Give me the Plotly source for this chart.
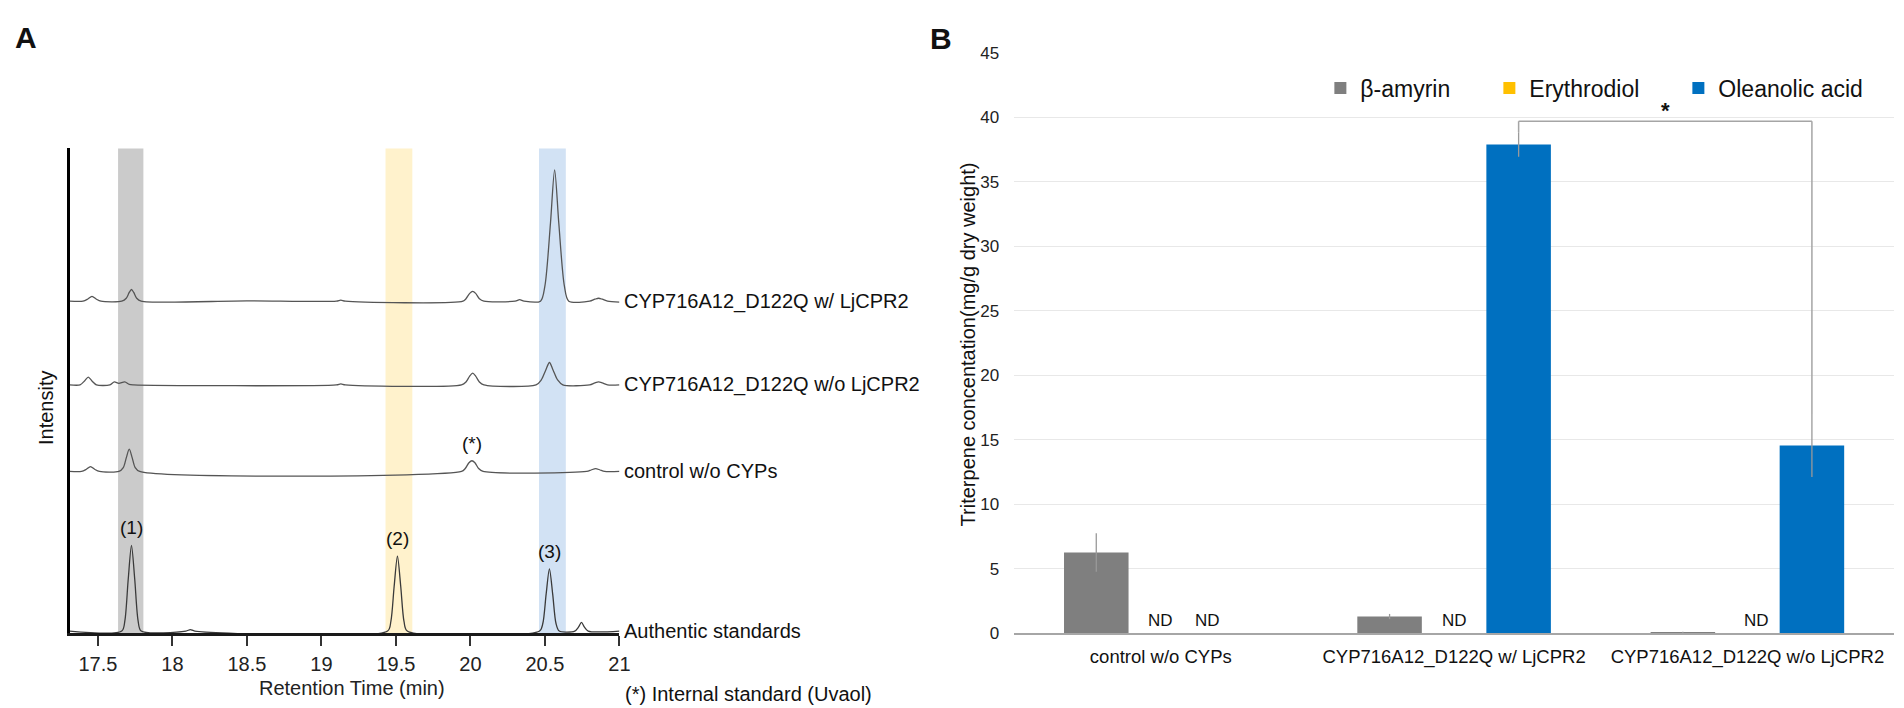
import plotly.graph_objects as go

W, H = 1904, 708
FONT = "Liberation Sans, Arial, Helvetica, sans-serif"

# ---------------- panel A: chromatograms (rt in min, intensity in a.u.) ----------------
trace_names = ["CYP716A12_D122Q w/ LjCPR2", "CYP716A12_D122Q w/o LjCPR2",
               "control w/o CYPs", "Authentic standards"]

with_cpr = [(17.31, 0), (17.40, 0), (17.43, 2), (17.46, 5), (17.49, 2), (17.52, 0),
            (17.66, 0), (17.69, 3), (17.71, 9), (17.725, 12), (17.74, 9), (17.76, 3), (17.79, 0),
            (18.5, 0.3), (19.10, 0), (19.13, 1), (19.16, 0), (19.95, 0), (19.97, 2.5),
            (19.995, 8), (20.015, 10), (20.035, 8), (20.06, 2.5), (20.09, 0), (20.30, 0),
            (20.33, 1.5), (20.36, 0), (20.47, 0), (20.50, 16), (20.537, 80), (20.565, 135),
            (20.593, 80), (20.63, 16), (20.66, 0), (20.80, 0), (20.835, 2), (20.86, 3),
            (20.885, 2), (20.92, 0), (21.0, -1)]

without_cpr = [(17.31, 0), (17.38, 0), (17.41, 4), (17.435, 8), (17.46, 4), (17.49, 0),
               (17.58, 0), (17.61, 3), (17.64, 1.5), (17.68, 3), (17.71, 0.5), (17.74, 0),
               (19.10, 0), (19.13, 1), (19.16, 0), (19.94, 0), (19.97, 3), (19.995, 9),
               (20.015, 12), (20.035, 9), (20.06, 3), (20.09, 0), (20.44, 0), (20.475, 5),
               (20.505, 15), (20.53, 23), (20.555, 15), (20.585, 5), (20.62, 0), (20.80, 0),
               (20.835, 2), (20.86, 3), (20.885, 2), (20.92, 0), (21.0, 0)]

control = [(17.31, 0), (17.39, 0), (17.42, 2), (17.45, 5), (17.48, 2), (17.51, 0),
           (17.64, 0), (17.67, 4), (17.69, 14), (17.71, 23), (17.73, 14), (17.75, 4), (17.78, 0),
           (19.94, 0), (19.965, 3), (19.99, 9), (20.01, 11), (20.03, 9), (20.055, 3), (20.085, 0),
           (20.78, 0), (20.81, 1.5), (20.84, 3), (20.87, 1.5), (20.90, 0), (21.0, 0)]

standards = [(17.31, 0), (17.66, 0), (17.681, 11), (17.703, 53), (17.725, 88), (17.747, 53),
             (17.769, 11), (17.79, 0), (18.09, 0), (18.12, 1.5), (18.15, 0), (19.444, 0),
             (19.466, 10), (19.488, 46), (19.51, 77), (19.532, 46), (19.554, 10), (19.576, 0),
             (20.464, 0), (20.486, 8), (20.508, 38), (20.53, 64), (20.552, 38), (20.574, 8),
             (20.596, 0), (20.70, 0), (20.725, 4), (20.745, 9), (20.765, 4), (20.79, 0), (21.0, 0)]

rt_ticks = [17.5, 18, 18.5, 19, 19.5, 20, 20.5, 21]
rt_tick_text = ["17.5", "18", "18.5", "19", "19.5", "20", "20.5", "21"]
band_ranges = [(17.635, 17.805), (19.43, 19.61), (20.46, 20.64)]
peak_labels = [("(1)", 17.725, 88), ("(2)", 19.51, 77), ("(3)", 20.53, 64)]
istd_label = ("(*)", 20.01, 11)

# ---------------- panel B: triterpene concentration ----------------
groups = ["control w/o CYPs", "CYP716A12_D122Q w/ LjCPR2", "CYP716A12_D122Q w/o LjCPR2"]
series_names = ["β-amyrin", "Erythrodiol", "Oleanolic acid"]
beta_amyrin = [6.25, 1.28, 0.05]
beta_amyrin_sd = [1.5, 0.2, 0.05]
erythrodiol = [0, 0, 0]
erythrodiol_sd = [0, 0, 0]
oleanolic = [0, 37.9, 14.55]
oleanolic_sd = [0, 0.95, 2.45]
nd_marks = [(0, 1), (0, 2), (1, 1), (2, 1)]  # (group index, series index) not detected
bracket_y = 39.7

# ---------------- styling ----------------
trace_offsets = [341, 255, 166, 2]
trace_colors = ["#555555", "#555555", "#555555", "#3a3a3a"]
band_colors = ["#cbcbcb", "#fff2cc", "#d2e2f4"]
bar_colors = ["#7f7f7f", "#ffc000", "#0070c0"]
bar_gap = 0.34
legend_widths = [124, 144, 160]
nd_shift = {(0, 2): -18, (2, 1): 9}


def fx(p):
    return p / W


def fy(p):
    return 1 - p / H


def note(text, x, y, size=20, **kw):
    d = dict(text=text, x=fx(x), y=fy(y), xref="paper", yref="paper", showarrow=False,
             xanchor="center", yanchor="middle", font=dict(size=size, color="#111"))
    d.update(kw)
    return d


fig = go.Figure()

for name, pts, off, col in zip(trace_names, [with_cpr, without_cpr, control, standards],
                               trace_offsets, trace_colors):
    fig.add_trace(go.Scatter(
        x=[p[0] for p in pts], y=[p[1] + off for p in pts],
        mode="lines", line=dict(color=col, width=1.3, shape="spline", smoothing=0.8),
        showlegend=False, hoverinfo="skip", xaxis="x", yaxis="y"))

series_vals = [beta_amyrin, erythrodiol, oleanolic]
series_sd = [beta_amyrin_sd, erythrodiol_sd, oleanolic_sd]
for i, (nm, vals, sd, col) in enumerate(zip(series_names, series_vals, series_sd, bar_colors)):
    fig.add_trace(go.Bar(
        x=groups, y=vals, name=nm, marker=dict(color=col, line=dict(width=0)),
        error_y=dict(type="data", array=sd, visible=True, color="#9a9a9a",
                     thickness=1.3, width=0),
        legendwidth=legend_widths[i], xaxis="x2", yaxis="y2"))

shapes = []
for (x0, x1), col in zip(band_ranges, band_colors):
    shapes.append(dict(type="rect", xref="x", yref="y domain", x0=x0, x1=x1, y0=0, y1=1,
                       fillcolor=col, line=dict(width=0), layer="below"))

# significance bracket between the oleanolic acid bars
slot = (1 - bar_gap) / 3
xl, xr = 1 + slot, 2 + slot
br_line = dict(color="#a5a5a5", width=1.5)
shapes += [
    dict(type="line", xref="x2", yref="y2", x0=xl, x1=xr, y0=bracket_y, y1=bracket_y, line=br_line),
    dict(type="line", xref="x2", yref="y2", x0=xl, x1=xl, y0=bracket_y,
         y1=oleanolic[1] + oleanolic_sd[1], line=br_line),
    dict(type="line", xref="x2", yref="y2", x0=xr, x1=xr, y0=bracket_y,
         y1=oleanolic[2] + oleanolic_sd[2], line=br_line),
]

ann = [
    note("<b>A</b>", 18, 21, size=30),
    note("<b>B</b>", 938, 22, size=30),
    note("Intensity", 38, 402, textangle=-90),
    note("Retention Time (min)", 346, 689, font=dict(size=20, color="#222")),
    note("(*) Internal standard (Uvaol)", 619, 696, xanchor="left"),
    note("Triterpene concentation(mg/g dry weight)", 966, 336, textangle=-90),
]
# trace names to the right of panel A
for name, off in zip(trace_names, trace_offsets):
    ann.append(dict(text=name, x=21.0, y=off, xref="x", yref="y", xanchor="left",
                    yanchor="middle", xshift=3, showarrow=False,
                    font=dict(size=20, color="#111")))
for txt, rt, h in peak_labels:
    ann.append(dict(text=txt, x=rt, y=h + trace_offsets[3], xref="x", yref="y",
                    xanchor="center", yanchor="bottom", yshift=5, showarrow=False,
                    font=dict(size=19, color="#111")))
ann.append(dict(text=istd_label[0], x=istd_label[1], y=istd_label[2] + trace_offsets[2],
                xref="x", yref="y", xanchor="center", yanchor="bottom", yshift=5,
                showarrow=False, font=dict(size=19, color="#111")))
for g, s in nd_marks:
    ann.append(dict(text="ND", x=g + (s - 1) * slot, y=0, xref="x2", yref="y2",
                    xanchor="center", yanchor="bottom", yshift=1,
                    xshift=nd_shift.get((g, s), 0),
                    showarrow=False, font=dict(size=17, color="#111")))
ann.append(dict(text="<b>*</b>", x=(xl + xr) / 2, y=bracket_y, xref="x2", yref="y2",
                xanchor="center", yanchor="bottom", yshift=-4, showarrow=False,
                font=dict(size=22, color="#111")))

fig.update_layout(
    width=W, height=H, margin=dict(l=0, r=0, t=0, b=0),
    paper_bgcolor="white", plot_bgcolor="rgba(0,0,0,0)",
    font=dict(family=FONT, color="#111"),
    barmode="group", bargap=bar_gap, bargroupgap=0,
    shapes=shapes, annotations=ann,
    xaxis=dict(domain=[fx(62), fx(615)], range=[17.31, 21.0], tickvals=rt_ticks,
               ticktext=rt_tick_text, showline=True, linecolor="#1a1a1a", linewidth=3,
               ticks="outside", ticklen=10, tickcolor="#333", tickwidth=2,
               showgrid=False, zeroline=False, tickfont=dict(size=20, color="#222"),
               ticklabelstandoff=1, anchor="y"),
    yaxis=dict(domain=[fy(633), fy(135)], range=[0, 498], showline=True,
               linecolor="black", linewidth=2.5, showticklabels=False, ticks="",
               showgrid=False, zeroline=False, anchor="x"),
    xaxis2=dict(domain=[fx(1012), fx(1897)], range=[-0.5, 2.5], showline=True,
                linecolor="#a6a6a6", linewidth=2, ticks="", showgrid=False,
                tickfont=dict(size=18.5, color="#111"), ticklabelstandoff=6, anchor="y2"),
    yaxis2=dict(domain=[fy(633), fy(37)], range=[0, 45], dtick=5, showline=False,
                gridcolor="#e8e8e8", gridwidth=1.2, zeroline=False, ticks="",
                tickfont=dict(size=17, color="#222"), ticklabelstandoff=14, anchor="x2"),
    legend=dict(orientation="h", x=fx(1320), y=fy(73), xanchor="left", yanchor="middle",
                font=dict(size=23, color="#111"), bgcolor="rgba(0,0,0,0)"),
)

fig.write_html("out.html")
